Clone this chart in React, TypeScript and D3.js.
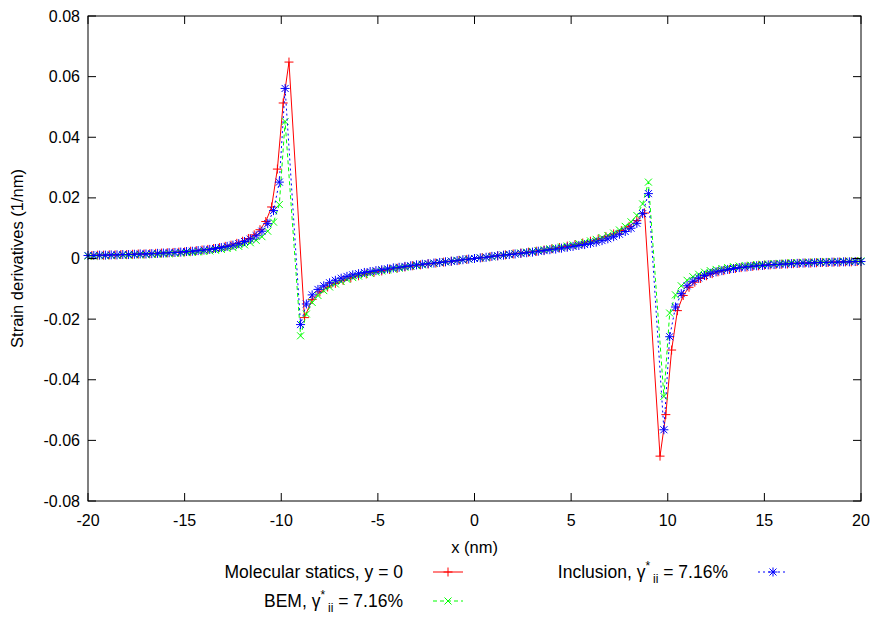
import React from 'react';
import * as d3 from 'd3';

const W = 875;
const H = 619;
const FONT = 'Liberation Sans, Arial, Helvetica, sans-serif';

// plot frame in page pixels
const frame = { left: 88, right: 861, top: 16, bottom: 501 };

const xTicks = [-20, -15, -10, -5, 0, 5, 10, 15, 20];
const yTicks = [-0.08, -0.06, -0.04, -0.02, 0, 0.02, 0.04, 0.06, 0.08];
const yTickLabels = ['-0.08', '-0.06', '-0.04', '-0.02', '0', '0.02', '0.04', '0.06', '0.08'];

// sample positions (nm): outside left, inside the inclusion, outside right
const xBgOutL = d3.range(35).map((i) => -20 + 0.3 * i);
const xBgIn = d3.range(61).map((i) => -9 + 0.3 * i);
const xBgOutR = d3.range(35).map((i) => 9.8 + 0.3 * i);
const xMsOutL = d3.range(35).map((i) => -19.8 + 0.3 * i);
const xMsIn = d3.range(45).map((i) => -8.8 + 0.4 * i);
const xMsOutR = d3.range(35).map((i) => 9.6 + 0.3 * i);

// Molecular statics, y = 0
const msOutL = [
  0.0010, 0.0011, 0.0011, 0.0012, 0.0012, 0.0013, 0.0013, 0.0014, 0.0015, 0.0015,
  0.0016, 0.0017, 0.0018, 0.0019, 0.0020, 0.0021, 0.0022, 0.0024, 0.0026, 0.0028,
  0.0030, 0.0033, 0.0036, 0.0040, 0.0044, 0.0050, 0.0057, 0.0066, 0.0078, 0.0095,
  0.0122, 0.0170, 0.0295, 0.0513, 0.0648,
];
const msIn = [
  -0.0195, -0.0135, -0.0110, -0.0094, -0.0082, -0.0072, -0.0064, -0.0057, -0.0051, -0.0046,
  -0.0041, -0.0036, -0.0032, -0.0028, -0.0024, -0.0021, -0.0018, -0.0015, -0.0012, -0.0009,
  -0.0006, -0.0003, 0.0000, 0.0003, 0.0006, 0.0009, 0.0012, 0.0015, 0.0018, 0.0021,
  0.0024, 0.0028, 0.0032, 0.0036, 0.0041, 0.0046, 0.0051, 0.0057, 0.0064, 0.0072,
  0.0081, 0.0092, 0.0106, 0.0125, 0.0150,
];
const msOutR = [
  -0.0652, -0.0515, -0.0302, -0.0172, -0.0122, -0.0095, -0.0078, -0.0066, -0.0057, -0.0050,
  -0.0044, -0.0040, -0.0036, -0.0033, -0.0030, -0.0028, -0.0026, -0.0024, -0.0022, -0.0021,
  -0.0020, -0.0019, -0.0018, -0.0017, -0.0016, -0.0015, -0.0015, -0.0014, -0.0013, -0.0013,
  -0.0012, -0.0012, -0.0011, -0.0011, -0.0010,
];

// BEM
const bemOutL = [
  0.0008, 0.0008, 0.0009, 0.0009, 0.0010, 0.0010, 0.0011, 0.0011, 0.0012, 0.0012,
  0.0013, 0.0014, 0.0014, 0.0015, 0.0016, 0.0017, 0.0018, 0.0019, 0.0020, 0.0022,
  0.0023, 0.0025, 0.0027, 0.0030, 0.0033, 0.0036, 0.0040, 0.0045, 0.0052, 0.0060,
  0.0072, 0.0090, 0.0120, 0.0178, 0.0452,
];
const bemIn = [
  -0.0255, -0.0183, -0.0145, -0.0122, -0.0106, -0.0094, -0.0084, -0.0076, -0.0069, -0.0063,
  -0.0058, -0.0053, -0.0049, -0.0045, -0.0041, -0.0038, -0.0035, -0.0032, -0.0029, -0.0026,
  -0.0023, -0.0021, -0.0018, -0.0016, -0.0013, -0.0011, -0.0009, -0.0006, -0.0004, -0.0002,
  0.0000,
  0.0002, 0.0004, 0.0006, 0.0009, 0.0011, 0.0013, 0.0016, 0.0018, 0.0021, 0.0023,
  0.0026, 0.0029, 0.0032, 0.0035, 0.0038, 0.0041, 0.0045, 0.0049, 0.0053, 0.0058,
  0.0063, 0.0069, 0.0076, 0.0084, 0.0094, 0.0106, 0.0121, 0.0142, 0.0180, 0.0252,
];
const bemOutR = [
  -0.0455, -0.0180, -0.0120, -0.0090, -0.0072, -0.0060, -0.0052, -0.0045, -0.0040, -0.0036,
  -0.0033, -0.0030, -0.0027, -0.0025, -0.0023, -0.0022, -0.0020, -0.0019, -0.0018, -0.0017,
  -0.0016, -0.0015, -0.0014, -0.0014, -0.0013, -0.0012, -0.0012, -0.0011, -0.0011, -0.0010,
  -0.0010, -0.0009, -0.0009, -0.0008, -0.0008,
];

// Inclusion
const incOutL = [
  0.0010, 0.0010, 0.0011, 0.0011, 0.0012, 0.0012, 0.0013, 0.0013, 0.0014, 0.0015,
  0.0015, 0.0016, 0.0017, 0.0018, 0.0019, 0.0020, 0.0021, 0.0023, 0.0024, 0.0026,
  0.0028, 0.0030, 0.0033, 0.0036, 0.0040, 0.0044, 0.0049, 0.0056, 0.0064, 0.0075,
  0.0090, 0.0115, 0.0158, 0.0252, 0.0561,
];
const incIn = [
  -0.0218, -0.0150, -0.0120, -0.0102, -0.0090, -0.0080, -0.0072, -0.0065, -0.0059, -0.0054,
  -0.0050, -0.0046, -0.0043, -0.0040, -0.0037, -0.0034, -0.0031, -0.0029, -0.0026, -0.0024,
  -0.0021, -0.0019, -0.0017, -0.0015, -0.0013, -0.0011, -0.0009, -0.0007, -0.0004, -0.0002,
  0.0000,
  0.0002, 0.0004, 0.0007, 0.0009, 0.0011, 0.0013, 0.0015, 0.0017, 0.0019, 0.0021,
  0.0024, 0.0026, 0.0029, 0.0031, 0.0034, 0.0037, 0.0040, 0.0043, 0.0046, 0.0050,
  0.0054, 0.0059, 0.0065, 0.0072, 0.0080, 0.0089, 0.0100, 0.0116, 0.0148, 0.0214,
];
const incOutR = [
  -0.0565, -0.0258, -0.0160, -0.0116, -0.0090, -0.0075, -0.0064, -0.0056, -0.0049, -0.0044,
  -0.0040, -0.0036, -0.0033, -0.0030, -0.0028, -0.0026, -0.0024, -0.0023, -0.0021, -0.0020,
  -0.0019, -0.0018, -0.0017, -0.0016, -0.0015, -0.0015, -0.0014, -0.0013, -0.0013, -0.0012,
  -0.0012, -0.0011, -0.0011, -0.0010, -0.0010,
];

type Pt = [number, number];
const zip = (xs: number[], ys: number[]): Pt[] => xs.map((x, i) => [x, ys[i]]);

const xScale = d3.scaleLinear().domain([-20, 20]).range([frame.left, frame.right]);
const yScale = d3.scaleLinear().domain([-0.08, 0.08]).range([frame.bottom, frame.top]);

const plus = (x: number, y: number, r = 4.5) => `M${x - r},${y}H${x + r}M${x},${y - r}V${y + r}`;
const cross = (x: number, y: number, r = 3.5) =>
  `M${x - r},${y - r}L${x + r},${y + r}M${x - r},${y + r}L${x + r},${y - r}`;
const star = (x: number, y: number) => plus(x, y, 4.5) + cross(x, y, 3.5);

const series = [
  {
    name: 'ms',
    color: '#ff0000',
    dash: undefined as string | undefined,
    marker: plus,
    pts: [...zip(xMsOutL, msOutL), ...zip(xMsIn, msIn), ...zip(xMsOutR, msOutR)],
  },
  {
    name: 'bem',
    color: '#00ff00',
    dash: '4,3',
    marker: cross,
    pts: [...zip(xBgOutL, bemOutL), ...zip(xBgIn, bemIn), ...zip(xBgOutR, bemOutR)],
  },
  {
    name: 'inc',
    color: '#0000ff',
    dash: '2,3',
    marker: star,
    pts: [...zip(xBgOutL, incOutL), ...zip(xBgIn, incIn), ...zip(xBgOutR, incOutR)],
  },
];

const line = d3
  .line<Pt>()
  .x((d) => xScale(d[0]))
  .y((d) => yScale(d[1]));

const Gamma = () => (
  <>
    γ
    <tspan dy={-8} fontSize={12}>*</tspan>
    <tspan dy={13} dx={3} fontSize={12}>ii</tspan>
    <tspan dy={-5}> = 7.16%</tspan>
  </>
);

const LegendSample = ({ x, y, s }: { x: number; y: number; s: (typeof series)[number] }) => (
  <g>
    <line x1={x} x2={x + 30} y1={y} y2={y} stroke={s.color} strokeDasharray={s.dash} strokeWidth={1} />
    <path d={s.marker(x + 15, y)} stroke={s.color} strokeWidth={1} fill="none" />
  </g>
);

export default function App() {
  return (
    <svg width={W} height={H} style={{ position: 'absolute', left: 0, top: 0 }} fontFamily={FONT}>
      <rect width={W} height={H} fill="#fff" />

      {/* data */}
      {series.map((s) => (
        <g key={s.name}>
          <path d={line(s.pts) || ''} fill="none" stroke={s.color} strokeWidth={1} strokeDasharray={s.dash} />
          <path
            d={s.pts.map((p) => s.marker(xScale(p[0]), yScale(p[1]))).join('')}
            fill="none"
            stroke={s.color}
            strokeWidth={1}
          />
        </g>
      ))}

      {/* ticks, mirrored and inward */}
      {xTicks.map((t) => (
        <g key={'x' + t}>
          <line x1={xScale(t)} x2={xScale(t)} y1={frame.bottom} y2={frame.bottom - 8} stroke="#000" />
          <line x1={xScale(t)} x2={xScale(t)} y1={frame.top} y2={frame.top + 8} stroke="#000" />
          <text x={xScale(t)} y={frame.bottom + 25} textAnchor="middle" fontSize={16}>
            {t}
          </text>
        </g>
      ))}
      {yTicks.map((t, i) => (
        <g key={'y' + t}>
          <line x1={frame.left} x2={frame.left + 8} y1={yScale(t)} y2={yScale(t)} stroke="#000" />
          <line x1={frame.right} x2={frame.right - 8} y1={yScale(t)} y2={yScale(t)} stroke="#000" />
          <text x={frame.left - 8} y={yScale(t) + 5.5} textAnchor="end" fontSize={16}>
            {yTickLabels[i]}
          </text>
        </g>
      ))}

      <rect
        x={frame.left}
        y={frame.top}
        width={frame.right - frame.left}
        height={frame.bottom - frame.top}
        fill="none"
        stroke="#000"
        strokeWidth={1}
      />

      {/* axis titles */}
      <text x={(frame.left + frame.right) / 2} y={553} textAnchor="middle" fontSize={16.5}>
        x (nm)
      </text>
      <text
        transform={`translate(23,${(frame.top + frame.bottom) / 2}) rotate(-90)`}
        textAnchor="middle"
        fontSize={16.5}
      >
        Strain derivatives (1/nm)
      </text>

      {/* legend */}
      <text x={403} y={578} textAnchor="end" fontSize={17.5}>
        Molecular statics, y = 0
      </text>
      <LegendSample x={433} y={572} s={series[0]} />
      <text x={403} y={607} textAnchor="end" fontSize={17.5}>
        BEM, <Gamma />
      </text>
      <LegendSample x={433} y={601} s={series[1]} />
      <text x={728} y={578} textAnchor="end" fontSize={17.5}>
        Inclusion, <Gamma />
      </text>
      <LegendSample x={758} y={572} s={series[2]} />
    </svg>
  );
}
